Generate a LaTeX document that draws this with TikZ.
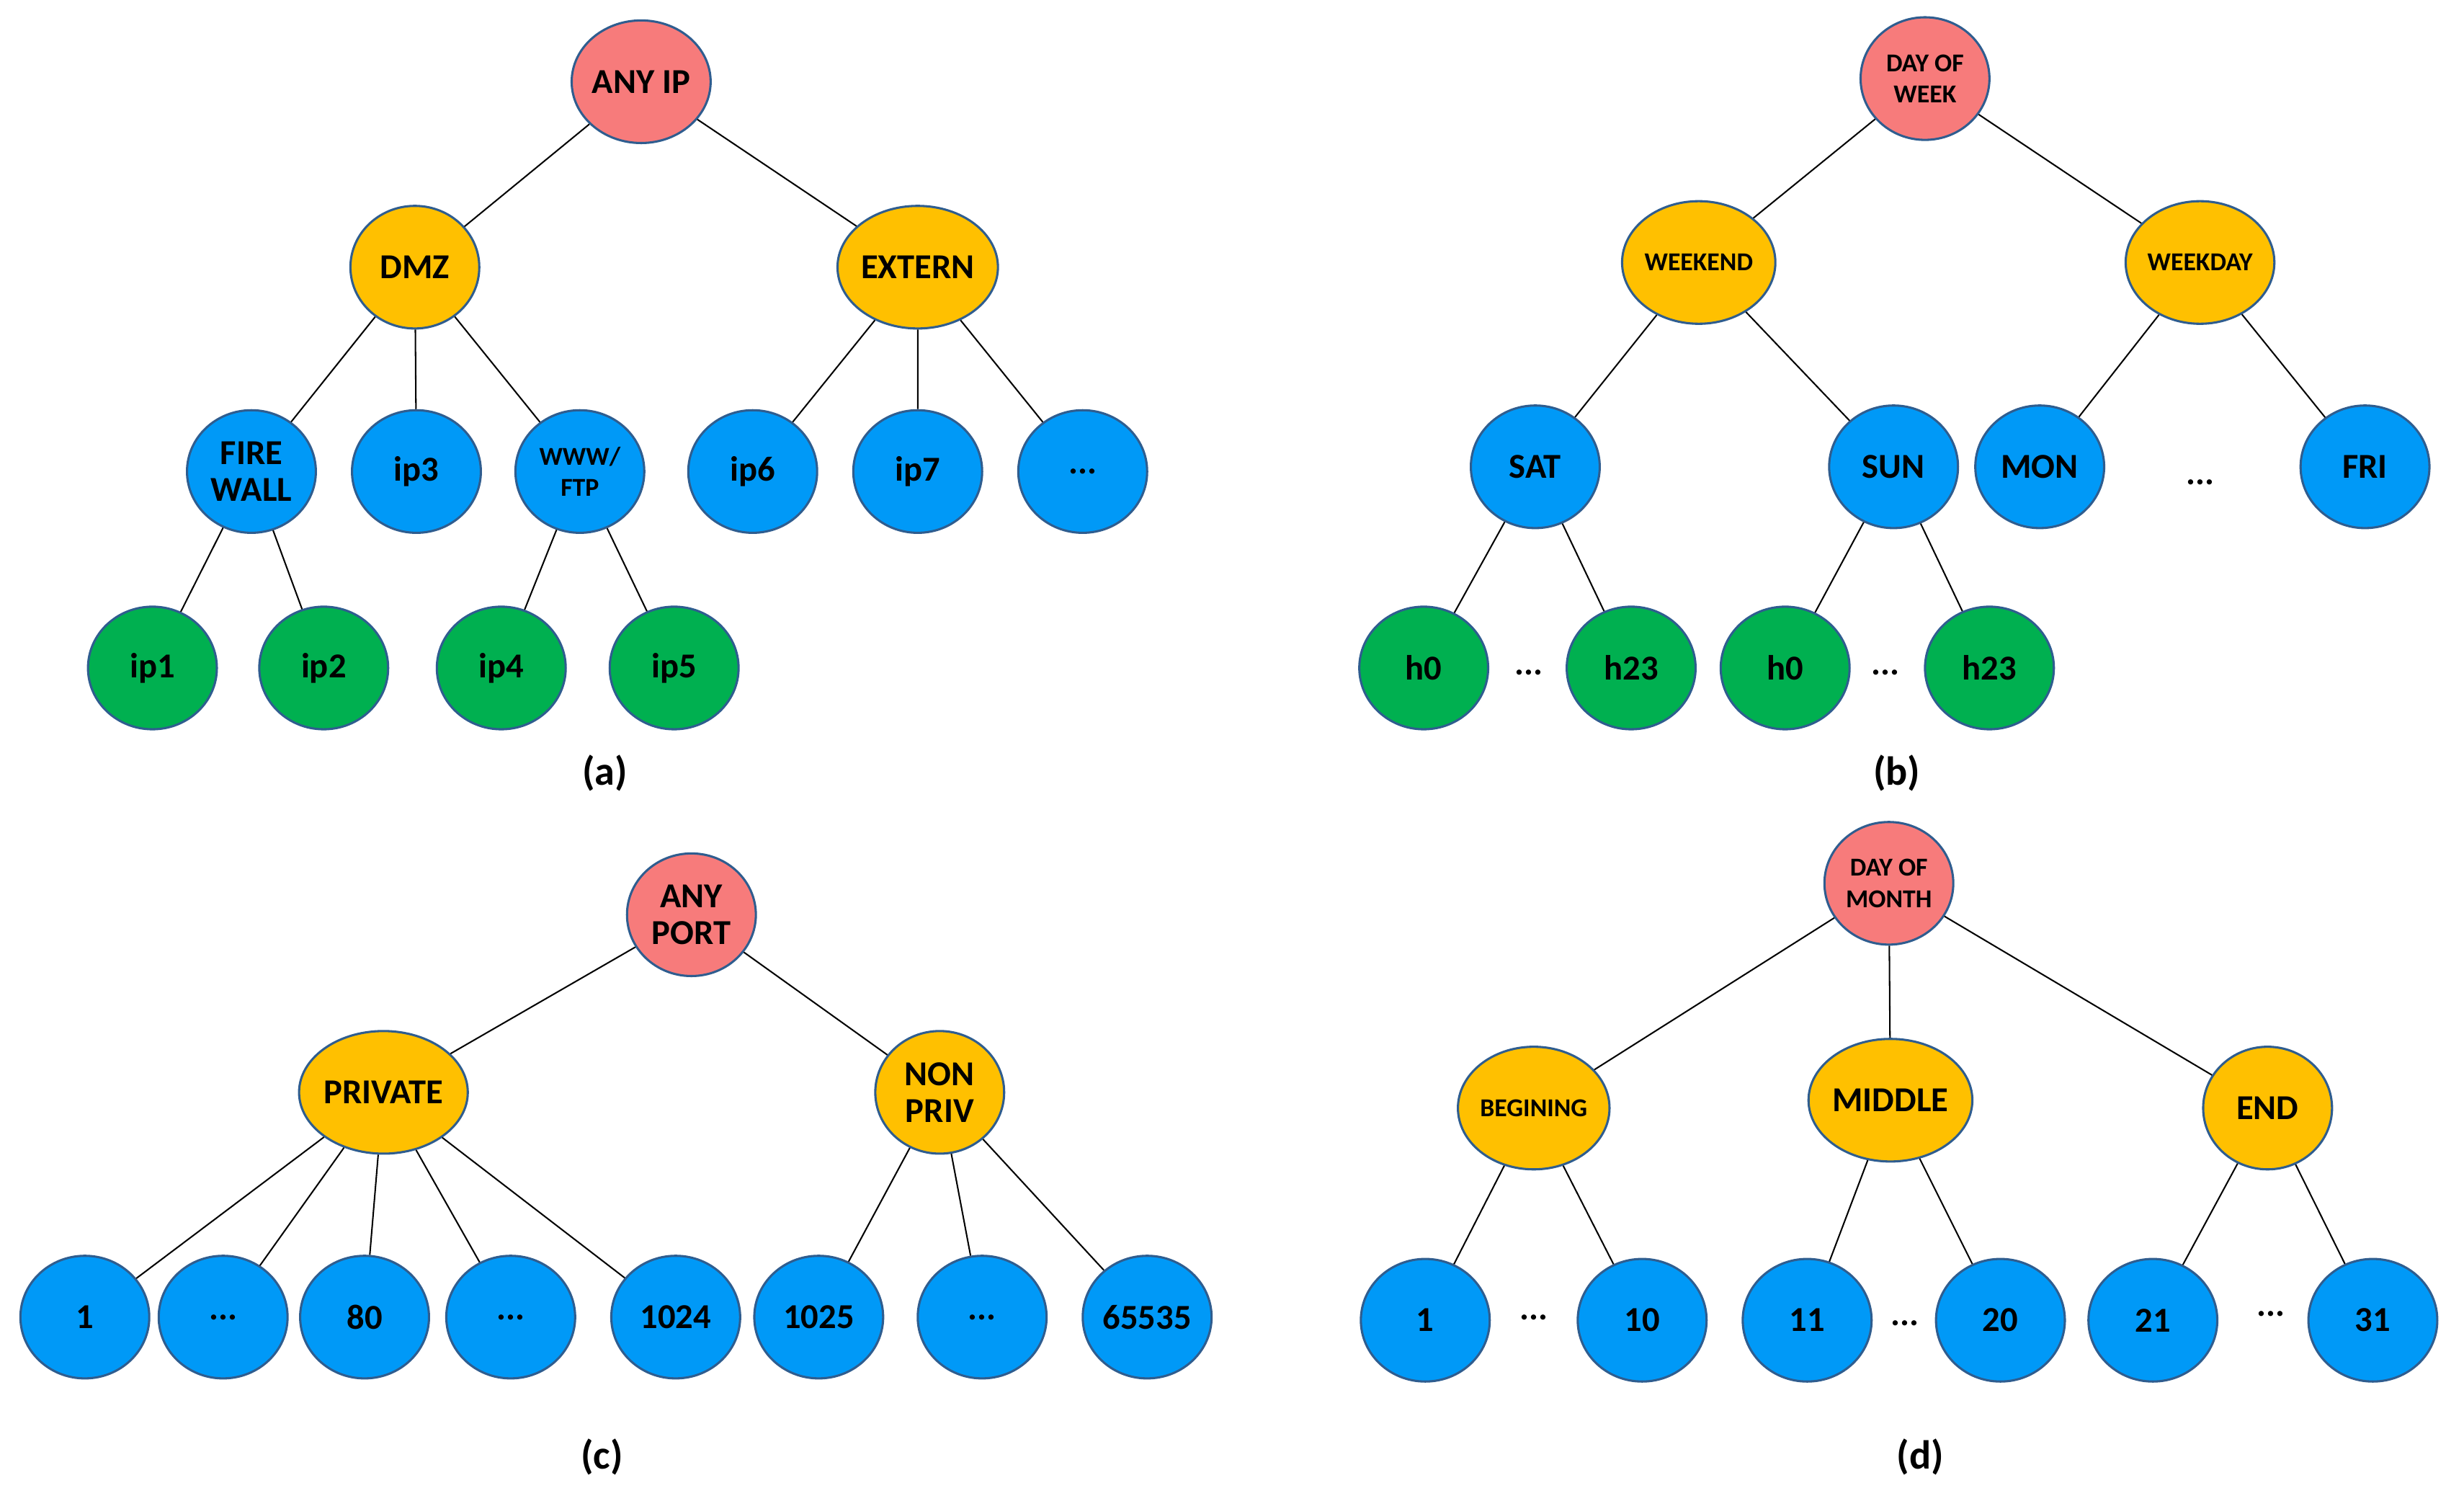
\documentclass[tikz,border=0pt]{standalone}
\usepackage{fontspec}
\setmainfont{Carlito}
\usetikzlibrary{shapes.geometric}
\definecolor{cred}{HTML}{F77B7B}
\definecolor{cor}{HTML}{FFC000}
\definecolor{cbl}{HTML}{0099F7}
\definecolor{cgr}{HTML}{00B050}
\definecolor{cbd}{HTML}{2F5D8F}
\begin{document}
\begin{tikzpicture}[x=0.03cm,y=-0.03cm,
  nd/.style={ellipse,draw=cbd,line width=1.2pt,minimum width=2.46cm,minimum height=2.34cm,inner sep=0pt,align=center,font=\fontsize{19}{20}\selectfont\bfseries},
  sm/.style={font=\fontsize{14}{17}\selectfont\bfseries},
  r/.style={nd,fill=cred},o/.style={nd,fill=cor},b/.style={nd,fill=cbl},g/.style={nd,fill=cgr},
  dt/.style={font=\fontsize{19}{20}\selectfont\bfseries},
  lb/.style={font=\fontsize{22}{24}\selectfont\bfseries},
  every path/.style={line width=0.8pt}]
\useasboundingbox (0,0) rectangle (1568,955);
% (a)
\node[r] (anyip) at (408,52) {ANY IP};
\node[o] (dmz) at (264,170) {DMZ};
\node[o] (ext) at (584,170) {EXTERN};
\node[b] (fw) at (160,300) {FIRE\\WALL};
\node[b] (ip3) at (265,300) {ip3};
\node[b,sm] (www) at (369,300) {WWW/\\FTP};
\node[b] (ip6) at (479,300) {ip6};
\node[b] (ip7) at (584,300) {ip7};
\node[b] (ad) at (689,300) {...};
\node[g] (ip1) at (97,425) {ip1};
\node[g] (ip2) at (206,425) {ip2};
\node[g] (ip4) at (319,425) {ip4};
\node[g] (ip5) at (429,425) {ip5};
\draw (anyip)--(dmz) (anyip)--(ext) (dmz)--(fw) (dmz)--(ip3) (dmz)--(www)
 (ext)--(ip6) (ext)--(ip7) (ext)--(ad) (fw)--(ip1) (fw)--(ip2) (www)--(ip4) (www)--(ip5);
\node[lb] (la) at (385,492) {(a)};
% (b)
\node[r,sm] (dow) at (1225,50) {DAY OF\\WEEK};
\node[o,sm] (wke) at (1081,167) {WEEKEND};
\node[o,sm] (wkd) at (1400,167) {WEEKDAY};
\node[b] (sat) at (977,297) {SAT};
\node[b] (sun) at (1205,297) {SUN};
\node[b] (mon) at (1298,297) {MON};
\node[dt] (bd) at (1400,307) {...};
\node[b] (fri) at (1505,297) {FRI};
\node[g] (h0a) at (906,425) {h0};
\node[dt] (bd1) at (973,428) {...};
\node[g] (h23a) at (1038,425) {h23};
\node[g] (h0b) at (1136,425) {h0};
\node[dt] (bd2) at (1200,428) {...};
\node[g] (h23b) at (1266,425) {h23};
\draw (dow)--(wke) (dow)--(wkd) (wke)--(sat) (wke)--(sun) (wkd)--(mon) (wkd)--(fri)
 (sat)--(h0a) (sat)--(h23a) (sun)--(h0b) (sun)--(h23b);
\node[lb] (lbb) at (1207,492) {(b)};
% (c)
\node[r] (anyp) at (440,582) {ANY\\PORT};
\node[o] (priv) at (244,695) {PRIVATE};
\node[o] (np) at (598,695) {NON\\PRIV};
\node[b] (c1) at (54,838) {1};
\node[b] (c2) at (142,838) {...};
\node[b] (c3) at (232,838) {80};
\node[b] (c4) at (325,838) {...};
\node[b] (c5) at (430,838) {1024};
\node[b] (c6) at (521,838) {1025};
\node[b] (c7) at (625,838) {...};
\node[b] (c8) at (730,838) {65535};
\draw (anyp)--(priv) (anyp)--(np) (priv)--(c1) (priv)--(c2) (priv)--(c3) (priv)--(c4) (priv)--(c5)
 (np)--(c6) (np)--(c7) (np)--(c8);
\node[lb] (lc) at (383,927) {(c)};
% (d)
\node[r,sm] (dom) at (1202,562) {DAY OF\\MONTH};
\node[o,sm] (beg) at (976,705) {BEGINING};
\node[o] (mid) at (1203,700) {MIDDLE};
\node[o] (end) at (1443,705) {END};
\node[b] (d1) at (907,840) {1};
\node[dt] (dd1) at (976,838) {...};
\node[b] (d10) at (1045,840) {10};
\node[b] (d11) at (1150,840) {11};
\node[dt] (dd2) at (1212,842) {...};
\node[b] (d20) at (1273,840) {20};
\node[b] (d21) at (1370,840) {21};
\node[dt] (dd3) at (1445,836) {...};
\node[b] (d31) at (1510,840) {31};
\draw (dom)--(beg) (dom)--(mid) (dom)--(end) (beg)--(d1) (beg)--(d10) (mid)--(d11) (mid)--(d20)
 (end)--(d21) (end)--(d31);
\node[lb] (ld) at (1222,927) {(d)};
\end{tikzpicture}
\end{document}
